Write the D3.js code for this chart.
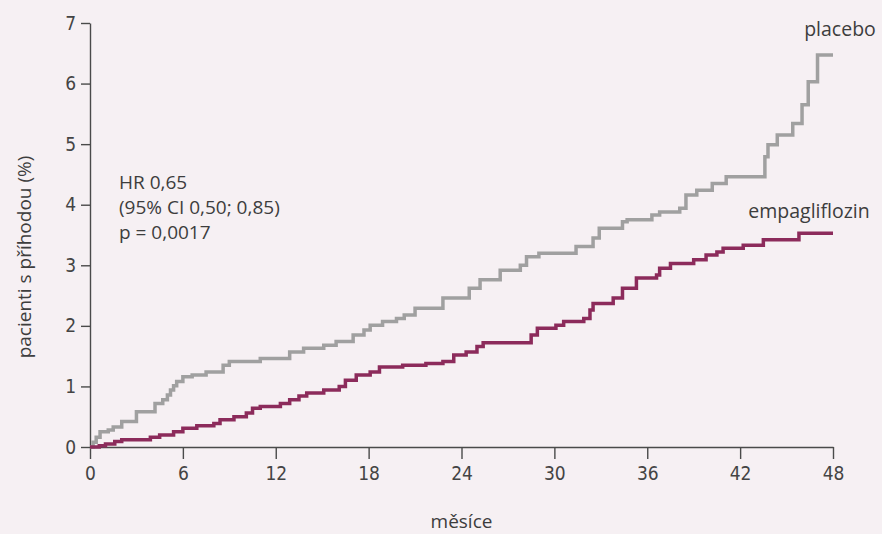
<!DOCTYPE html>
<html>
<head>
<meta charset="utf-8">
<script src="https://cdn.jsdelivr.net/npm/d3@7"></script>
<style>
  body { margin: 0; background: #f6f0f3; }
  text { font-family: "Open Sans", "Noto Sans", sans-serif; fill: #3d3d3d; }
  .axis path, .axis line { stroke: #4a4a4a; stroke-width: 1.4; }
  .axis text { font-size: 19px; fill: #444; font-family: "Liberation Sans Narrow", "DejaVu Sans Condensed", "Open Sans", sans-serif; font-stretch: condensed; }
</style>
</head>
<body>
<div id="chart"></div>
<script>
// DATA
////////////////////////////
// step curves: [month, cumulative % after the event]
var placebo = [
  [0, 0], [0.2, 0.08], [0.4, 0.16], [0.65, 0.25], [1.18, 0.28], [1.5, 0.33], [2.05, 0.42],
  [3.0, 0.58], [4.2, 0.72], [4.7, 0.78], [5.0, 0.86], [5.2, 0.94], [5.4, 1.01], [5.6, 1.08],
  [6.0, 1.16], [6.6, 1.19], [7.5, 1.24], [8.6, 1.35], [9.0, 1.41], [11.0, 1.46], [12.9, 1.57],
  [13.8, 1.63], [15.1, 1.68], [15.9, 1.74], [17.0, 1.85], [17.7, 1.93], [18.1, 2.01], [18.9, 2.07],
  [19.8, 2.12], [20.3, 2.18], [21.0, 2.29], [22.8, 2.46], [24.5, 2.62], [25.2, 2.76], [26.5, 2.92],
  [27.8, 3.0], [28.2, 3.14], [29.0, 3.2], [31.4, 3.31], [32.5, 3.45], [32.9, 3.61], [34.4, 3.72],
  [34.7, 3.75], [36.3, 3.83], [36.8, 3.88], [38.1, 3.94], [38.5, 4.16], [39.2, 4.24], [40.2, 4.35],
  [41.1, 4.46], [43.6, 4.79], [43.8, 4.99], [44.4, 5.15], [45.4, 5.34], [46.0, 5.65], [46.4, 6.03],
  [47.0, 6.47], [48, 6.47]
];
var empagliflozin = [
  [0, 0], [0.6, 0.02], [1.0, 0.05], [1.6, 0.09], [2.05, 0.12], [3.9, 0.16], [4.5, 0.2], [5.4, 0.25],
  [6.0, 0.31], [6.9, 0.35], [8.0, 0.39], [8.4, 0.45], [9.3, 0.5], [10.1, 0.56], [10.5, 0.64],
  [11.0, 0.67], [12.3, 0.72], [12.9, 0.78], [13.5, 0.84], [14.0, 0.89], [15.1, 0.94], [16.1, 1.0],
  [16.5, 1.1], [17.2, 1.19], [18.1, 1.24], [18.7, 1.32], [20.2, 1.35], [21.7, 1.38], [22.8, 1.41],
  [23.5, 1.52], [24.3, 1.57], [25.0, 1.66], [25.4, 1.72], [28.5, 1.85], [28.9, 1.96], [30.1, 2.01],
  [30.6, 2.07], [31.9, 2.12], [32.3, 2.26], [32.5, 2.37], [33.8, 2.46], [34.4, 2.62], [35.3, 2.79],
  [36.6, 2.84], [36.8, 2.95], [37.5, 3.03], [39.0, 3.09], [39.8, 3.17], [40.5, 3.22], [40.9, 3.28],
  [42.2, 3.33], [43.5, 3.42], [45.8, 3.53], [48, 3.53]
];
var xTicks = [0, 6, 12, 18, 24, 30, 36, 42, 48];
var yTicks = [0, 1, 2, 3, 4, 5, 6, 7];
var statsLines = ["HR 0,65", "(95% CI 0,50; 0,85)", "p = 0,0017"];

// SETUP
////////////////////////////
var width = 882,
    height = 534,
    margin = {top: 23, right: 49, bottom: 87, left: 90};

var svg = d3.select("#chart").append("svg")
    .attr("width", width)
    .attr("height", height);

svg.append("rect").attr("width", width).attr("height", height).attr("fill", "#f6f0f3");

var x = d3.scaleLinear().domain([0, 48]).range([margin.left, width - margin.right]);
var y = d3.scaleLinear().domain([0, 7]).range([height - margin.bottom, margin.top]);

// axes
svg.append("g")
    .attr("class", "axis")
    .attr("transform", "translate(0," + y(0) + ")")
    .call(d3.axisBottom(x).tickValues(xTicks).tickFormat(d3.format("d"))
      .tickSize(12).tickSizeOuter(0).tickPadding(8));

svg.append("g")
    .attr("class", "axis")
    .attr("transform", "translate(" + x(0) + ",0)")
    .call(d3.axisLeft(y).tickValues(yTicks).tickFormat(d3.format("d"))
      .tickSize(9).tickSizeOuter(0).tickPadding(5));

// curves
var line = d3.line()
    .x(function(d) { return x(d[0]); })
    .y(function(d) { return y(d[1]); })
    .curve(d3.curveStepAfter);

svg.append("path")
    .datum(placebo)
    .attr("d", line)
    .attr("fill", "none")
    .attr("stroke", "#a0a0a0")
    .attr("stroke-width", 3.5);

svg.append("path")
    .datum(empagliflozin)
    .attr("d", line)
    .attr("fill", "none")
    .attr("stroke", "#8c2b5b")
    .attr("stroke-width", 3.5);

// labels
svg.append("text")
    .attr("x", 840).attr("y", 36)
    .attr("text-anchor", "middle")
    .style("font-size", "19.5px")
    .text("placebo");

svg.append("text")
    .attr("x", 809).attr("y", 218)
    .attr("text-anchor", "middle")
    .style("font-size", "19.5px")
    .text("empagliflozin");

svg.selectAll(".stat")
  .data(statsLines).enter()
  .append("text")
    .attr("class", "stat")
    .attr("x", 119)
    .attr("y", function(d, i) { return 189 + i * 25; })
    .style("font-size", "19px")
    .text(function(d) { return d; });

svg.append("text")
    .attr("transform", "translate(31," + ((margin.top + y(0)) / 2 + 22) + ") rotate(-90)")
    .attr("text-anchor", "middle")
    .style("font-size", "19px")
    .text("pacienti s příhodou (%)");

svg.append("text")
    .attr("x", x(24)).attr("y", 528)
    .attr("text-anchor", "middle")
    .style("font-size", "19px")
    .text("měsíce");
</script>
</body>
</html>
